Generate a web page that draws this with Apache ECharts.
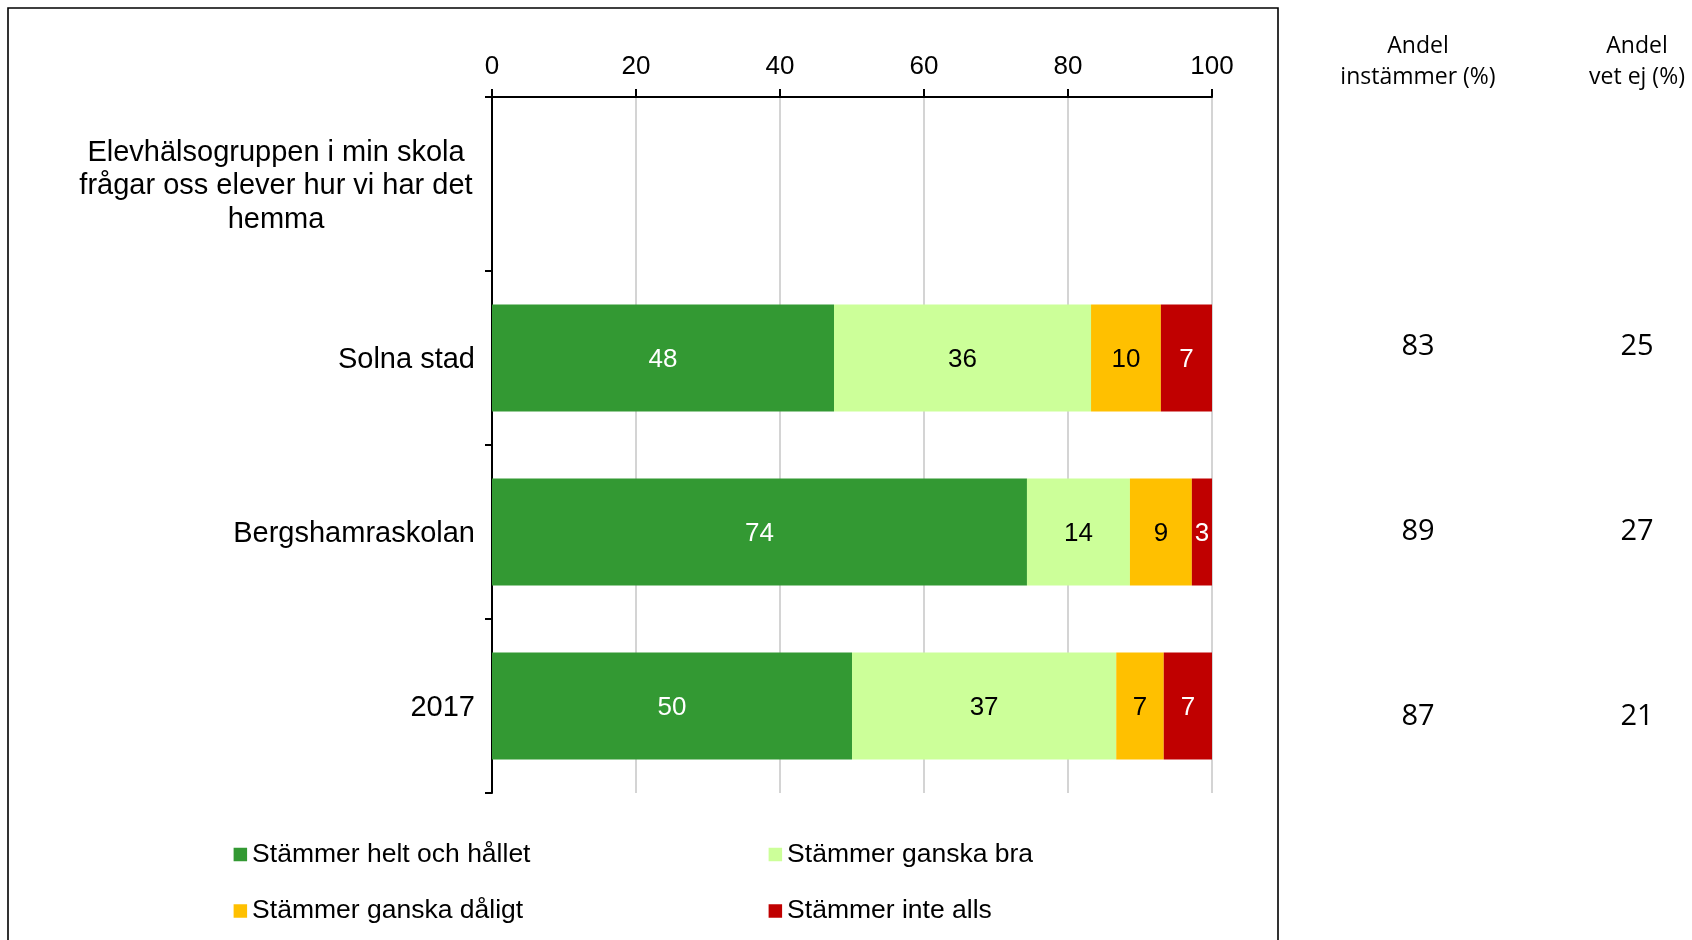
<!DOCTYPE html>
<html><head><meta charset="utf-8">
<script src="https://cdn.jsdelivr.net/npm/echarts@6/dist/echarts.min.js"></script>
<style>html,body{margin:0;padding:0;background:#fff}#c{width:1692px;height:940px}</style>
</head><body><div id="c"></div>
<script>
const question = 'Elevhälsogruppen i min skola\nfrågar oss elever hur vi har det\nhemma';
const groups = ['Solna stad', 'Bergshamraskolan', '2017'];
const seriesNames = ['Stämmer helt och hållet', 'Stämmer ganska bra', 'Stämmer ganska dåligt', 'Stämmer inte alls'];
const heltOchHallet = [47.5, 74.3, 50.0];
const ganskaBra = [35.7, 14.3, 36.7];
const ganskaDaligt = [9.7, 8.6, 6.6];
const inteAlls = [7.1, 2.8, 6.7];
const sideHeaders = ['Andel\ninstämmer (%)', 'Andel\nvet ej (%)'];
const andelInstammer = [83, 89, 87];
const andelVetEj = [25, 27, 21];

const colors = ['#339933', '#CCFF99', '#FFC000', '#C00000'];
const labelColors = ['#ffffff', '#000000', '#000000', '#ffffff'];
const valueSets = [heltOchHallet, ganskaBra, ganskaDaligt, inteAlls];
const categories = [question].concat(groups);
const FONT = '"Liberation Sans", Arial, sans-serif';
const SIDEFONT = '"Open Sans", "Noto Sans", sans-serif';

const barSeries = seriesNames.map((name, i) => ({
  name: name,
  type: 'bar',
  stack: 'total',
  xAxisIndex: 0,
  yAxisIndex: 0,
  barCategoryGap: '38.5%',
  itemStyle: { color: colors[i] },
  label: {
    show: true,
    position: 'inside',
    offset: [0, 2],
    color: labelColors[i],
    fontFamily: FONT,
    fontSize: 26,
    formatter: p => String(Math.round(p.value))
  },
  emphasis: { disabled: true },
  data: ['-'].concat(valueSets[i])
}));

const sideData = [];
groups.forEach((g, i) => {
  sideData.push([0, i, andelInstammer[i]]);
  sideData.push([1, i, andelVetEj[i]]);
});

const chart = echarts.init(document.getElementById('c'));
chart.setOption({
  animation: false,
  backgroundColor: '#ffffff',
  graphic: [{
    type: 'rect',
    shape: { x: 8, y: 8, width: 1270, height: 1000 },
    style: { fill: 'none', stroke: '#000', lineWidth: 1.6 },
    silent: true
  }],
  grid: [
    { left: 492, top: 97, width: 720, height: 696, containLabel: false },
    { left: 1418, top: 254.5, width: 219, height: 555, containLabel: false }
  ],
  legend: [
    {
      orient: 'vertical', left: 228.6, top: 836, itemGap: 29.5,
      itemWidth: 13.5, itemHeight: 13.5, icon: 'rect',
      textStyle: { fontFamily: FONT, fontSize: 26.5, color: '#000' },
      data: [seriesNames[0], seriesNames[2]], selectedMode: false
    },
    {
      orient: 'vertical', left: 763.6, top: 836, itemGap: 29.5,
      itemWidth: 13.5, itemHeight: 13.5, icon: 'rect',
      textStyle: { fontFamily: FONT, fontSize: 26.5, color: '#000' },
      data: [seriesNames[1], seriesNames[3]], selectedMode: false
    }
  ],
  xAxis: [
    {
      type: 'value', gridIndex: 0, position: 'top', min: 0, max: 100, interval: 20,
      axisLine: { show: true, lineStyle: { color: '#000', width: 2 } },
      axisTick: { show: true, length: 8, lineStyle: { color: '#000', width: 2 } },
      axisLabel: { fontFamily: FONT, fontSize: 26, color: '#000', margin: 17 },
      splitLine: { show: true, lineStyle: { color: '#c6c6c6', width: 1.5 } }
    },
    {
      type: 'category', gridIndex: 1, position: 'top', data: sideHeaders, boundaryGap: false,
      axisLine: { show: false }, axisTick: { show: false }, splitLine: { show: false },
      axisLabel: { fontFamily: SIDEFONT, fontSize: 23, lineHeight: 31, color: '#000', margin: 162, interval: 0 }
    }
  ],
  yAxis: [
    {
      type: 'category', gridIndex: 0, inverse: true, data: categories,
      axisLine: { show: true, lineStyle: { color: '#000', width: 2 } },
      axisTick: { show: true, length: 7, lineStyle: { color: '#000', width: 2 } },
      axisLabel: {
        fontFamily: FONT, fontSize: 29, color: '#000', margin: 17, interval: 0,
        padding: [4, 0, 0, 0],
        formatter: (v, idx) => idx === 0 ? '{q|' + v + '}' : v,
        rich: { q: { width: 398, align: 'center', lineHeight: 33.5, fontFamily: FONT, fontSize: 29, color: '#000' } }
      },
      splitLine: { show: false }
    },
    {
      type: 'category', gridIndex: 1, inverse: true, data: groups,
      show: false
    }
  ],
  series: barSeries.concat([{
    name: 'side',
    type: 'scatter',
    xAxisIndex: 1,
    yAxisIndex: 1,
    symbolSize: 0,
    silent: true,
    itemStyle: { opacity: 1 },
    label: {
      show: true, position: 'inside', fontFamily: SIDEFONT, fontSize: 29, color: '#000',
      opacity: 1, textBorderWidth: 0,
      formatter: p => String(p.value[2])
    },
    data: sideData
  }])
});
</script>
</body></html>
